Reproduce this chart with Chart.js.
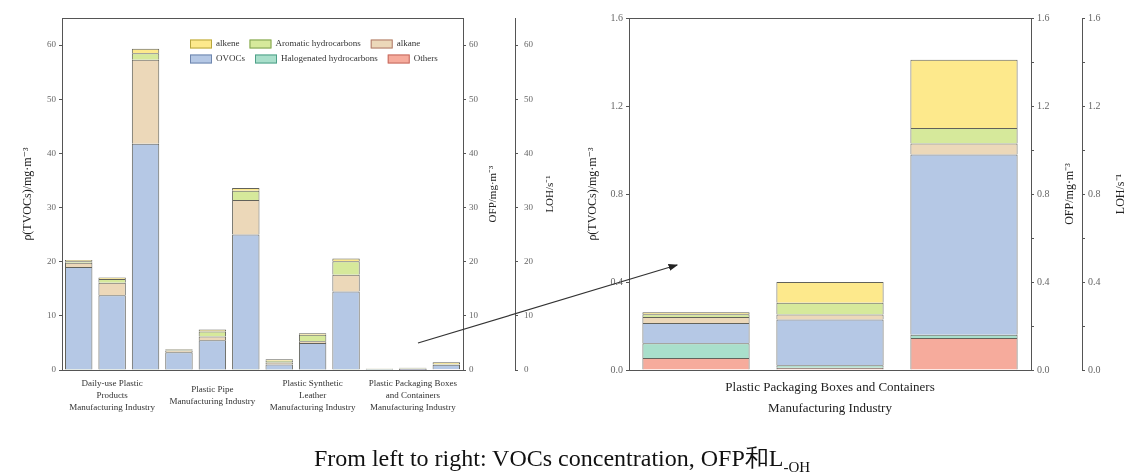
<!DOCTYPE html>
<html>
<head>
<meta charset="utf-8">
<script src="https://cdn.jsdelivr.net/npm/chart.js@4/dist/chart.umd.min.js"></script>
<style>
  html, body { margin: 0; padding: 0; background: #fff; overflow: hidden; }
  body { width: 1124px; height: 474px; position: relative; }
  canvas { position: absolute; top: 0; }
  #left { left: 0; }
  #right { left: 565px; }
  #arrow { position: absolute; left: 0; top: 0; pointer-events: none; }
  #caption {
    position: absolute; left: 0; width: 1124px; top: 442px; text-align: center;
    font-family: "Liberation Serif", serif; font-size: 24px; color: #111;
  }
  #caption sub { font-size: 15px; }
</style>
</head>
<body>
<canvas id="left" width="565" height="430"></canvas>
<canvas id="right" width="562" height="430"></canvas>
<svg id="arrow" width="1124" height="474">
  <defs>
    <marker id="head" markerWidth="8" markerHeight="6" refX="7" refY="3" orient="auto">
      <path d="M0,0 L8,3 L0,6 z" fill="#222"></path>
    </marker>
  </defs>
  <line x1="418" y1="343" x2="677" y2="265" stroke="#333" stroke-width="1.2" marker-end="url(#head)"></line>
</svg>
<div id="caption">From left to right: VOCs concentration, OFP和L<sub>-OH</sub></div>

<script>
// each group: VOCs concentration, OFP, LOH
const categories = [
  "", ["Daily-use Plastic", "Products", "Manufacturing Industry"], "",
  "", ["Plastic Pipe", "Manufacturing Industry"], "",
  "", ["Plastic Synthetic", "Leather", "Manufacturing Industry"], "",
  "", ["Plastic Packaging Boxes", "and Containers", "Manufacturing Industry"], "",
];
const zoomCategories = ["", ["Plastic Packaging Boxes and Containers", "Manufacturing Industry"], ""];

const others      = [0.1, 0.1, 0.1, 0.05, 0.05, 0.1, 0.05, 0.05, 0.1, 0.054, 0.010, 0.145];
const halogenated = [0.1, 0.1, 0.1, 0.05, 0.05, 0.1, 0.05, 0.05, 0.1, 0.068, 0.012, 0.015];
const ovocs       = [18.8, 13.6, 41.6, 3.2, 5.4, 24.8, 0.9, 4.9, 14.3, 0.092, 0.208, 0.82];
const alkane      = [0.8, 2.3, 15.5, 0.3, 0.7, 6.4, 0.4, 0.3, 3.1, 0.027, 0.022, 0.05];
const aromatic    = [0.3, 0.7, 1.2, 0.2, 0.9, 1.7, 0.3, 1.2, 2.5, 0.012, 0.054, 0.07];
const alkene      = [0.2, 0.3, 0.8, 0.1, 0.4, 0.5, 0.3, 0.3, 0.5, 0.010, 0.094, 0.31];

const leftTicks = [0, 10, 20, 30, 40, 50, 60];

Chart.defaults.font.family = "'Liberation Serif', 'DejaVu Serif', serif";
Chart.defaults.color = "#444";

const series = [
  { label: "Others", data: others, fill: "#f6ab9c", edge: "#c46a60" },
  { label: "Halogenated hydrocarbons", data: halogenated, fill: "#a9dfcb", edge: "#4f9f88" },
  { label: "OVOCs", data: ovocs, fill: "#b5c8e5", edge: "#6f86ae" },
  { label: "alkane", data: alkane, fill: "#ecd8b9", edge: "#b07a6a" },
  { label: "Aromatic hydrocarbons", data: aromatic, fill: "#d6e99b", edge: "#7fa050" },
  { label: "alkene", data: alkene, fill: "#fde98c", edge: "#b8a640" },
];

function makeSets(sliceFrom) {
  return series.map((s) => ({
    label: s.label,
    data: s.data.slice(sliceFrom),
    backgroundColor: s.fill,
    borderColor: "#62625a",
    borderWidth: 1,
    edge: s.edge,
  }));
}

// legend in two rows inside the plot
const gridLegend = {
  id: "gridLegend",
  afterDraw(chart, args, opts) {
    if (!opts.show) return;
    const ctx = chart.ctx;
    const sets = chart.data.datasets.slice().reverse();
    ctx.save();
    ctx.font = "9px 'Liberation Serif'";
    ctx.textBaseline = "middle";
    for (let row = 0; row < 2; row++) {
      let x = opts.x;
      const y = opts.y + row * opts.rowGap;
      sets.slice(row * 3, row * 3 + 3).forEach((ds) => {
        ctx.fillStyle = ds.backgroundColor;
        ctx.fillRect(x, y - 4.5, 22, 9);
        ctx.strokeStyle = ds.edge;
        ctx.lineWidth = 1;
        ctx.strokeRect(x + 0.5, y - 4, 21, 8);
        ctx.fillStyle = "#333";
        ctx.fillText(ds.label, x + 26, y);
        x += 26 + ctx.measureText(ds.label).width + 10;
      });
    }
    ctx.restore();
  },
};

// top edge of the plot box + titles of right axes read bottom-to-top
const frame = {
  id: "frame",
  afterDraw(chart) {
    const { ctx, chartArea: a } = chart;
    ctx.save();
    ctx.strokeStyle = "#555";
    ctx.lineWidth = 1;
    ctx.beginPath();
    ctx.moveTo(a.left, a.top + 0.5);
    ctx.lineTo(a.right, a.top + 0.5);
    ctx.stroke();
    Object.values(chart.scales).forEach((s) => {
      const t = s.options.sideTitle;
      if (!t) return;
      ctx.save();
      ctx.translate(s.right - t.offset, (s.top + s.bottom) / 2);
      ctx.rotate(-Math.PI / 2);
      ctx.font = t.size + "px 'Liberation Serif'";
      ctx.fillStyle = "#222";
      ctx.textAlign = "center";
      ctx.textBaseline = "middle";
      ctx.fillText(t.text, 0, 0);
      ctx.restore();
    });
    ctx.restore();
  },
};

function yAxis(opts) {
  const left = opts.position === "left";
  return {
    position: opts.position,
    weight: opts.weight || 0,
    stacked: opts.stacked || false,
    min: 0,
    max: opts.max,
    grid: { drawOnChartArea: false, tickLength: 3, color: "#555" },
    border: { color: "#555", width: 1 },
    ticks: {
      stepSize: opts.step,
      padding: opts.tickPad || 3,
      color: "#666",
      font: { size: opts.tickSize },
      callback: opts.label,
    },
    title: {
      display: left,
      text: opts.title,
      color: "#222",
      font: { size: opts.titleSize },
      padding: { top: opts.titlePad, bottom: 0 },
    },
    sideTitle: left ? null : { text: opts.title, size: opts.titleSize, offset: opts.titlePad },
    afterBuildTicks: opts.filter,
    afterFit: (scale) => { scale.width = opts.width; },
  };
}

const keepTens = (scale) => {
  scale.ticks = scale.ticks.filter((t) => leftTicks.includes(t.value));
};
const tens = (v) => v;
const everyFour = (v) => (Math.round(v * 10) % 4 === 0 ? v.toFixed(1) : "");

new Chart(document.getElementById("left"), {
  type: "bar",
  data: { labels: categories, datasets: makeSets(0) },
  plugins: [gridLegend, frame],
  options: {
    responsive: false,
    animation: false,
    devicePixelRatio: 1,
    layout: { padding: { top: 18, left: 0, right: 0, bottom: 0 } },
    datasets: { bar: { barPercentage: 0.82, categoryPercentage: 1 } },
    plugins: {
      legend: { display: false },
      tooltip: { enabled: false },
      gridLegend: { show: true, x: 190, y: 44, rowGap: 15 },
    },
    scales: {
      x: {
        stacked: true,
        grid: { drawOnChartArea: false, drawTicks: false },
        border: { color: "#555" },
        ticks: {
          autoSkip: false, maxRotation: 0, minRotation: 0,
          crossAlign: "center", padding: 14, color: "#333",
          font: { size: 9, lineHeight: 1.33 },
        },
        afterFit: (scale) => { scale.height = 60; },
      },
      y: yAxis({ position: "left", stacked: true, max: 65, step: 10, tickSize: 9, label: tens,
        title: "ρ(TVOCs)/mg·m⁻³", titleSize: 12, titlePad: 21, filter: keepTens, width: 62 }),
      yOFP: yAxis({ position: "right", weight: 0, max: 65, step: 10, tickSize: 9, label: tens,
        title: "OFP/mg·m⁻³", titleSize: 11, titlePad: 22, filter: keepTens, width: 52 }),
      yLOH: yAxis({ position: "right", weight: 1, max: 65, step: 10, tickSize: 9, label: tens, tickPad: 6,
        title: "LOH/s⁻¹", titleSize: 11, titlePad: 15, filter: keepTens, width: 50 }),
    },
  },
});

new Chart(document.getElementById("right"), {
  type: "bar",
  data: { labels: zoomCategories, datasets: makeSets(9) },
  plugins: [frame],
  options: {
    responsive: false,
    animation: false,
    devicePixelRatio: 1,
    layout: { padding: { top: 18, left: 0, right: 0, bottom: 0 } },
    datasets: { bar: { barPercentage: 0.8, categoryPercentage: 1 } },
    plugins: { legend: { display: false }, tooltip: { enabled: false } },
    scales: {
      x: {
        stacked: true,
        grid: { drawOnChartArea: false, drawTicks: false },
        border: { color: "#555" },
        ticks: {
          autoSkip: false, maxRotation: 0, minRotation: 0,
          padding: 7, color: "#222",
          font: { size: 13, lineHeight: 1.6 },
        },
        afterFit: (scale) => { scale.height = 60; },
      },
      y: yAxis({ position: "left", stacked: true, max: 1.6, step: 0.4, tickSize: 10, label: everyFour,
        title: "ρ(TVOCs)/mg·m⁻³", titleSize: 12, titlePad: 21, width: 64 }),
      yOFP: yAxis({ position: "right", weight: 0, max: 1.6, step: 0.2, tickSize: 10, label: everyFour,
        title: "OFP/mg·m⁻³", titleSize: 12, titlePad: 12, width: 51 }),
      yLOH: yAxis({ position: "right", weight: 1, max: 1.6, step: 0.2, tickSize: 10, label: everyFour,
        title: "LOH/s⁻¹", titleSize: 12, titlePad: 6, width: 45 }),
    },
  },
});
</script>
</body>
</html>
